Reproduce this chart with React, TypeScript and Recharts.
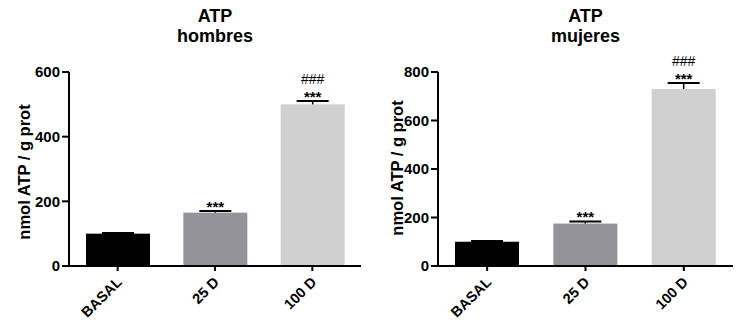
import React from 'react';
import { BarChart, Bar, XAxis, YAxis, Cell } from 'recharts';

const categories = ['BASAL', '25 D', '100 D'];
const hombresValues = [100, 165, 500];
const hombresErrors = [2, 5, 10];
const mujeresValues = [100, 175, 730];
const mujeresErrors = [3, 9, 25];
const starMarks = ['', '***', '***'];
const hashMarks = ['', '', '###'];
const hombresTicks = [0, 200, 400, 600];
const mujeresTicks = [0, 200, 400, 600, 800];

const barColors = ['#000000', '#949399', '#d0d0d0'];
const FONT = '"Liberation Sans", Arial, Helvetica, sans-serif';

const buildRows = (values: number[], errors: number[]) =>
  categories.map((name, i) => ({
    name,
    value: values[i],
    err: errors[i],
    stars: starMarks[i],
    hashes: hashMarks[i],
  }));

const hombresData = buildRows(hombresValues, hombresErrors);
const mujeresData = buildRows(mujeresValues, mujeresErrors);

// bar + upper half of the SEM bar + significance marks
const BarWithError = (props: any) => {
  const { x, y, width, height, fill, payload } = props;
  const pxPerUnit = payload.value ? height / payload.value : 0;
  const errTop = y - payload.err * pxPerUnit;
  const cx = x + width / 2;
  return (
    <g>
      <rect x={x} y={y} width={width} height={height} fill={fill} />
      <line x1={cx} x2={cx} y1={y} y2={errTop} stroke="#000" strokeWidth={1.5} />
      <line x1={cx - width / 4} x2={cx + width / 4} y1={errTop} y2={errTop} stroke="#000" strokeWidth={2} />
      {payload.stars && (
        <text x={cx} y={errTop + 1} textAnchor="middle" fontFamily={FONT} fontWeight="bold" fontSize={15} fill="#000">
          {payload.stars}
        </text>
      )}
      {payload.hashes && (
        <text x={cx} y={errTop - 17} textAnchor="middle" fontFamily={FONT} fontSize={14} fill="#000">
          {payload.hashes}
        </text>
      )}
    </g>
  );
};

const SlantTick = (props: any) => {
  const { x, y, payload } = props;
  const ax = x + 5;
  const ay = y + 10;
  return (
    <text
      x={ax}
      y={ay}
      transform={`rotate(-45, ${ax}, ${ay})`}
      textAnchor="end"
      fontFamily={FONT}
      fontWeight="bold"
      fontSize={14.5}
      fill="#000"
    >
      {payload.value}
    </text>
  );
};

interface PanelProps {
  subtitle: string;
  data: any[];
  ticks: number[];
  axisWidth: number;
  rightMargin: number;
  labelX: number;
  labelY: number;
}

const Panel: React.FC<PanelProps> = ({ subtitle, data, ticks, axisWidth, rightMargin, labelX, labelY }) => {
  const plotCenter = axisWidth + (375 - axisWidth - rightMargin) / 2;
  return (
    <div style={{ position: 'relative', width: 375, height: 322 }}>
      <div
        style={{
          position: 'absolute',
          left: plotCenter - 100,
          top: 6,
          width: 200,
          textAlign: 'center',
          fontFamily: FONT,
          fontWeight: 'bold',
          fontSize: 18,
          lineHeight: '20px',
        }}
      >
        <div>ATP</div>
        <div>{subtitle}</div>
      </div>
      <div style={{ position: 'absolute', left: 0, top: 0 }}>
        <BarChart width={375} height={322} data={data} margin={{ top: 72, right: rightMargin, left: 0, bottom: 0 }} barSize={64}>
          <XAxis
            dataKey="name"
            height={56}
            axisLine={{ stroke: '#000', strokeWidth: 2 }}
            tickLine={{ stroke: '#000', strokeWidth: 2 }}
            tickSize={5}
            tick={<SlantTick />}
            interval={0}
          />
          <YAxis
            width={axisWidth}
            domain={[0, ticks[ticks.length - 1]]}
            ticks={ticks}
            interval={0}
            axisLine={{ stroke: '#000', strokeWidth: 2 }}
            tickLine={{ stroke: '#000', strokeWidth: 2 }}
            tickSize={7}
            tickMargin={2}
            tick={{ fill: '#000', fontFamily: FONT, fontWeight: 'bold', fontSize: 15 }}
            label={{
              content: () => (
                <text
                  x={labelX}
                  y={labelY}
                  transform={`rotate(-90, ${labelX}, ${labelY})`}
                  textAnchor="middle"
                  fontFamily={FONT}
                  fontWeight="bold"
                  fontSize={16.5}
                  fill="#000"
                >
                  nmol ATP / g prot
                </text>
              ),
            }}
          />
          <Bar dataKey="value" shape={<BarWithError />} isAnimationActive={false}>
            {data.map((_, i) => (
              <Cell key={i} fill={barColors[i]} />
            ))}
          </Bar>
        </BarChart>
      </div>
    </div>
  );
};

export default function App() {
  return (
    <div style={{ position: 'absolute', left: 0, top: 0, width: 750, height: 322, display: 'flex', background: '#fff' }}>
      <Panel subtitle="hombres" data={hombresData} ticks={hombresTicks} axisWidth={69} rightMargin={14} labelX={30} labelY={172} />
      <Panel subtitle="mujeres" data={mujeresData} ticks={mujeresTicks} axisWidth={63} rightMargin={17} labelX={28} labelY={168} />
    </div>
  );
}
